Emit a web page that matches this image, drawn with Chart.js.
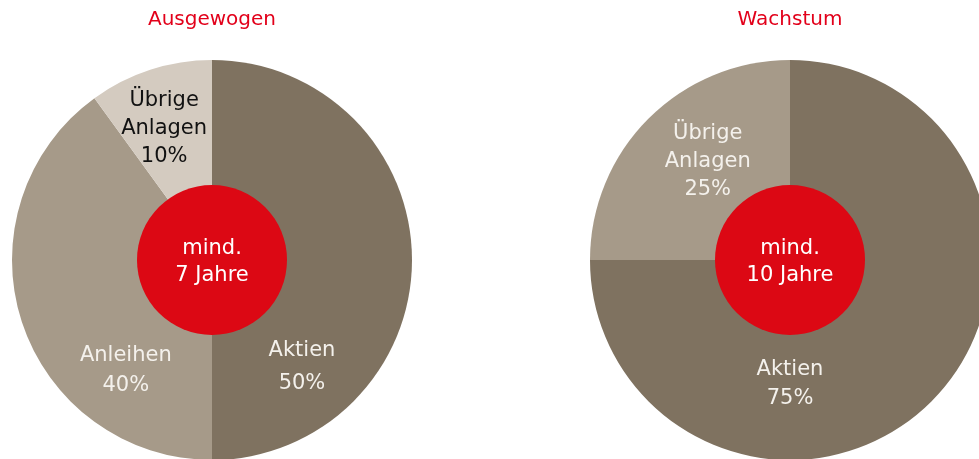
<!DOCTYPE html>
<html>
<head>
<meta charset="utf-8">
<script src="https://cdn.jsdelivr.net/npm/chart.js@4.4.1/dist/chart.umd.min.js"></script>
<style>
  html, body { margin: 0; padding: 0; background: #fff; overflow: hidden; width: 979px; height: 459px; }
  .box { position: absolute; top: 0; width: 424px; height: 460px; }
</style>
</head>
<body>
<div class="box" style="left:0px"><canvas id="leftPie" width="424" height="460"></canvas></div>
<div class="box" style="left:578px"><canvas id="rightPie" width="424" height="460"></canvas></div>
<script>
// data
const leftTitle = 'Ausgewogen'
const leftLabels = [['Aktien', '50%'], ['Anleihen', '40%'], ['Übrige', 'Anlagen', '10%']]
const leftValues = [50, 40, 10]
const leftCenter = ['mind.', '7 Jahre']

const rightTitle = 'Wachstum'
const rightLabels = [['Aktien', '75%'], ['Übrige', 'Anlagen', '25%']]
const rightValues = [75, 25]
const rightCenter = ['mind.', '10 Jahre']

// styles
const FONT = '"DejaVu Sans", Verdana, sans-serif'
const RED = '#DC0814'
const AKTIEN = '#7F7260'
const ANLEIHEN = '#A69A89'
const UEBRIGE_LIGHT = '#D4CBC0'

// label anchors: angle clockwise from 12 o'clock (deg), distance as fraction of radius
const leftAnchors = [
    {angle: 140, r: 0.70, color: '#F4F1EC', lineHeight: 33},
    {angle: 218, r: 0.70, color: '#F4F1EC', lineHeight: 30},
    {angle: 340, r: 0.70, color: '#111111', lineHeight: 28}
]
const rightAnchors = [
    {angle: 180, r: 0.62, color: '#F4F1EC', lineHeight: 29},
    {angle: 320, r: 0.64, color: '#F4F1EC', lineHeight: 28}
]

const pieDecor = {
    id: 'pieDecor',
    afterDatasetsDraw(chart, args, opts) {
        const ctx = chart.ctx
        const arc = chart.getDatasetMeta(0).data[0]
        const cx = arc.x, cy = arc.y, R = arc.outerRadius

        ctx.save()
        ctx.font = `21px ${FONT}`
        ctx.textAlign = 'center'
        ctx.textBaseline = 'middle'

        // segment labels
        opts.labels.forEach((lines, i) => {
            const a = opts.anchors[i]
            const rad = (a.angle - 90) * Math.PI / 180
            const x = cx + a.r * R * Math.cos(rad)
            const y = cy + a.r * R * Math.sin(rad)
            ctx.fillStyle = a.color
            const top = y - (lines.length - 1) * a.lineHeight / 2
            lines.forEach((t, j) => ctx.fillText(t, x, top + j * a.lineHeight))
        })

        // red centre disc
        ctx.beginPath()
        ctx.arc(cx, cy, R * 0.375, 0, Math.PI * 2)
        ctx.fillStyle = RED
        ctx.fill()

        ctx.fillStyle = '#ffffff'
        ctx.fillText(opts.center[0], cx, cy - 11)
        ctx.fillText(opts.center[1], cx, cy + 16)
        ctx.restore()
    }
}

function renderPie(id, title, labels, values, colors, anchors, center){
    const context = document.getElementById(id).getContext('2d')
    return new Chart(context, {
        type: 'pie',
        data: {
            labels: labels.map(l => l.join(' ')),
            datasets: [{
                data: values,
                backgroundColor: colors,
                borderWidth: 0
            }]
        },
        options: {
            responsive: false,
            animation: false,
            devicePixelRatio: 1,
            layout: {padding: {left: 12, right: 12, top: 0, bottom: 0}},
            plugins: {
                legend: {display: false},
                tooltip: {enabled: false},
                title: {
                    display: true,
                    text: title,
                    color: '#E2001A',
                    font: {family: FONT, size: 20, weight: 'normal', lineHeight: 1.2},
                    padding: {top: 8, bottom: 28}
                },
                pieDecor: {labels, anchors, center}
            }
        },
        plugins: [pieDecor]
    })
}

document.addEventListener('DOMContentLoaded', () => {
    renderPie('leftPie', leftTitle, leftLabels, leftValues, [AKTIEN, ANLEIHEN, UEBRIGE_LIGHT], leftAnchors, leftCenter)
    renderPie('rightPie', rightTitle, rightLabels, rightValues, [AKTIEN, ANLEIHEN], rightAnchors, rightCenter)
})
</script>
</body>
</html>
